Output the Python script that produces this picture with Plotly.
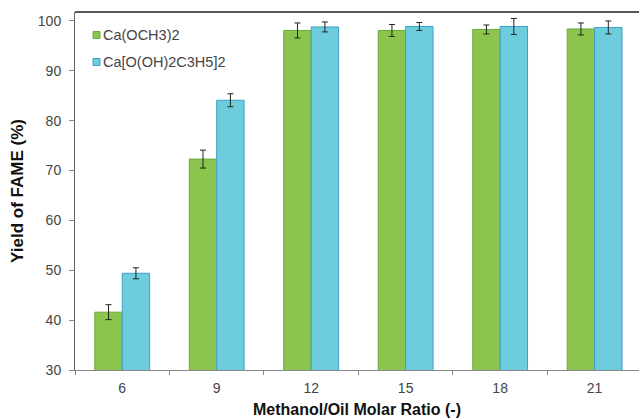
import plotly.graph_objects as go

ratios = ["6", "9", "12", "15", "18", "21"]
series_names = ["Ca(OCH3)2", "Ca[O(OH)2C3H5]2"]
ca_och3 = [41.6, 72.3, 98.1, 98.1, 98.3, 98.4]
ca_och3_err = [1.5, 1.8, 1.5, 1.2, 0.9, 1.2]
ca_glyc = [49.4, 84.1, 98.8, 98.9, 98.9, 98.7]
ca_glyc_err = [1.1, 1.3, 1.0, 0.8, 1.6, 1.3]
y_ticks = [30, 40, 50, 60, 70, 80, 90, 100]

fills = ["#8cc54e", "#6dcddc"]
edges = ["#6aab3c", "#3f9fc6"]

W, H = 639, 418
ML, MR, MT, MB = 75, 0, 12, 48
PW, PH = W - ML - MR, H - MT - MB

fig = go.Figure()
for name, vals, errs, fc, ec in [(series_names[0], ca_och3, ca_och3_err, fills[0], edges[0]),
                                 (series_names[1], ca_glyc, ca_glyc_err, fills[1], edges[1])]:
    fig.add_trace(go.Bar(
        x=ratios, y=vals, name=name, showlegend=False,
        marker=dict(color=fc, line=dict(color=ec, width=1)),
        error_y=dict(type="data", array=errs, color="#222222", thickness=1, width=3),
    ))

# legend drawn as small squares + text (pixel positions converted to paper coords)
shapes = [dict(type="line", xref="paper", yref="paper", x0=0, x1=1, y0=1, y1=1,
               line=dict(color="#222222", width=1.5))]
annotations = []
for i, (name, fc, ec) in enumerate(zip(series_names, fills, edges)):
    cy = 35 + i * 27
    x0 = (93 - ML) / PW
    x1 = (100 - ML) / PW
    y0 = (H - MB - (cy + 3.5)) / PH
    y1 = (H - MB - (cy - 3.5)) / PH
    shapes.append(dict(type="rect", xref="paper", yref="paper", x0=x0, x1=x1, y0=y0, y1=y1,
                       fillcolor=fc, line=dict(color=ec, width=1)))
    annotations.append(dict(xref="paper", yref="paper", x=(101 - ML) / PW, y=(H - MB - cy) / PH,
                            xanchor="left", yanchor="middle", showarrow=False, text=name,
                            font=dict(size=14.5, color="#444444")))

fig.update_layout(
    width=W, height=H,
    margin=dict(l=ML, r=MR, t=MT, b=MB),
    paper_bgcolor="white", plot_bgcolor="white",
    barmode="group", bargap=0.42, bargroupgap=0,
    font=dict(family="Liberation Sans, Arial, sans-serif", size=14, color="#444444"),
    xaxis=dict(
        type="category", range=[-0.5, 5.47],
        showline=True, linecolor="#888888", linewidth=1,
        ticks="outside", tickson="boundaries", ticklen=4, tickcolor="#888888",
        ticklabelstandoff=5,
        tickfont=dict(size=14, color="#444444"),
        title=dict(text="<b>Methanol/Oil Molar Ratio (-)</b>", font=dict(size=16, color="#111111"), standoff=9),
        showgrid=False,
    ),
    yaxis=dict(
        range=[30, 101.8], tickvals=y_ticks,
        showline=True, linecolor="#666666", linewidth=1,
        ticks="outside", ticklen=5, tickcolor="#888888",
        ticklabelstandoff=5,
        tickfont=dict(size=14, color="#444444"),
        title=dict(text="<b>Yield of FAME (%)</b>", font=dict(size=17, color="#111111"), standoff=9),
        showgrid=False, zeroline=False,
    ),
    shapes=shapes,
    annotations=annotations,
)

fig.write_html("out.html", config={"displayModeBar": False},
               post_script="document.body.style.margin='0';")
